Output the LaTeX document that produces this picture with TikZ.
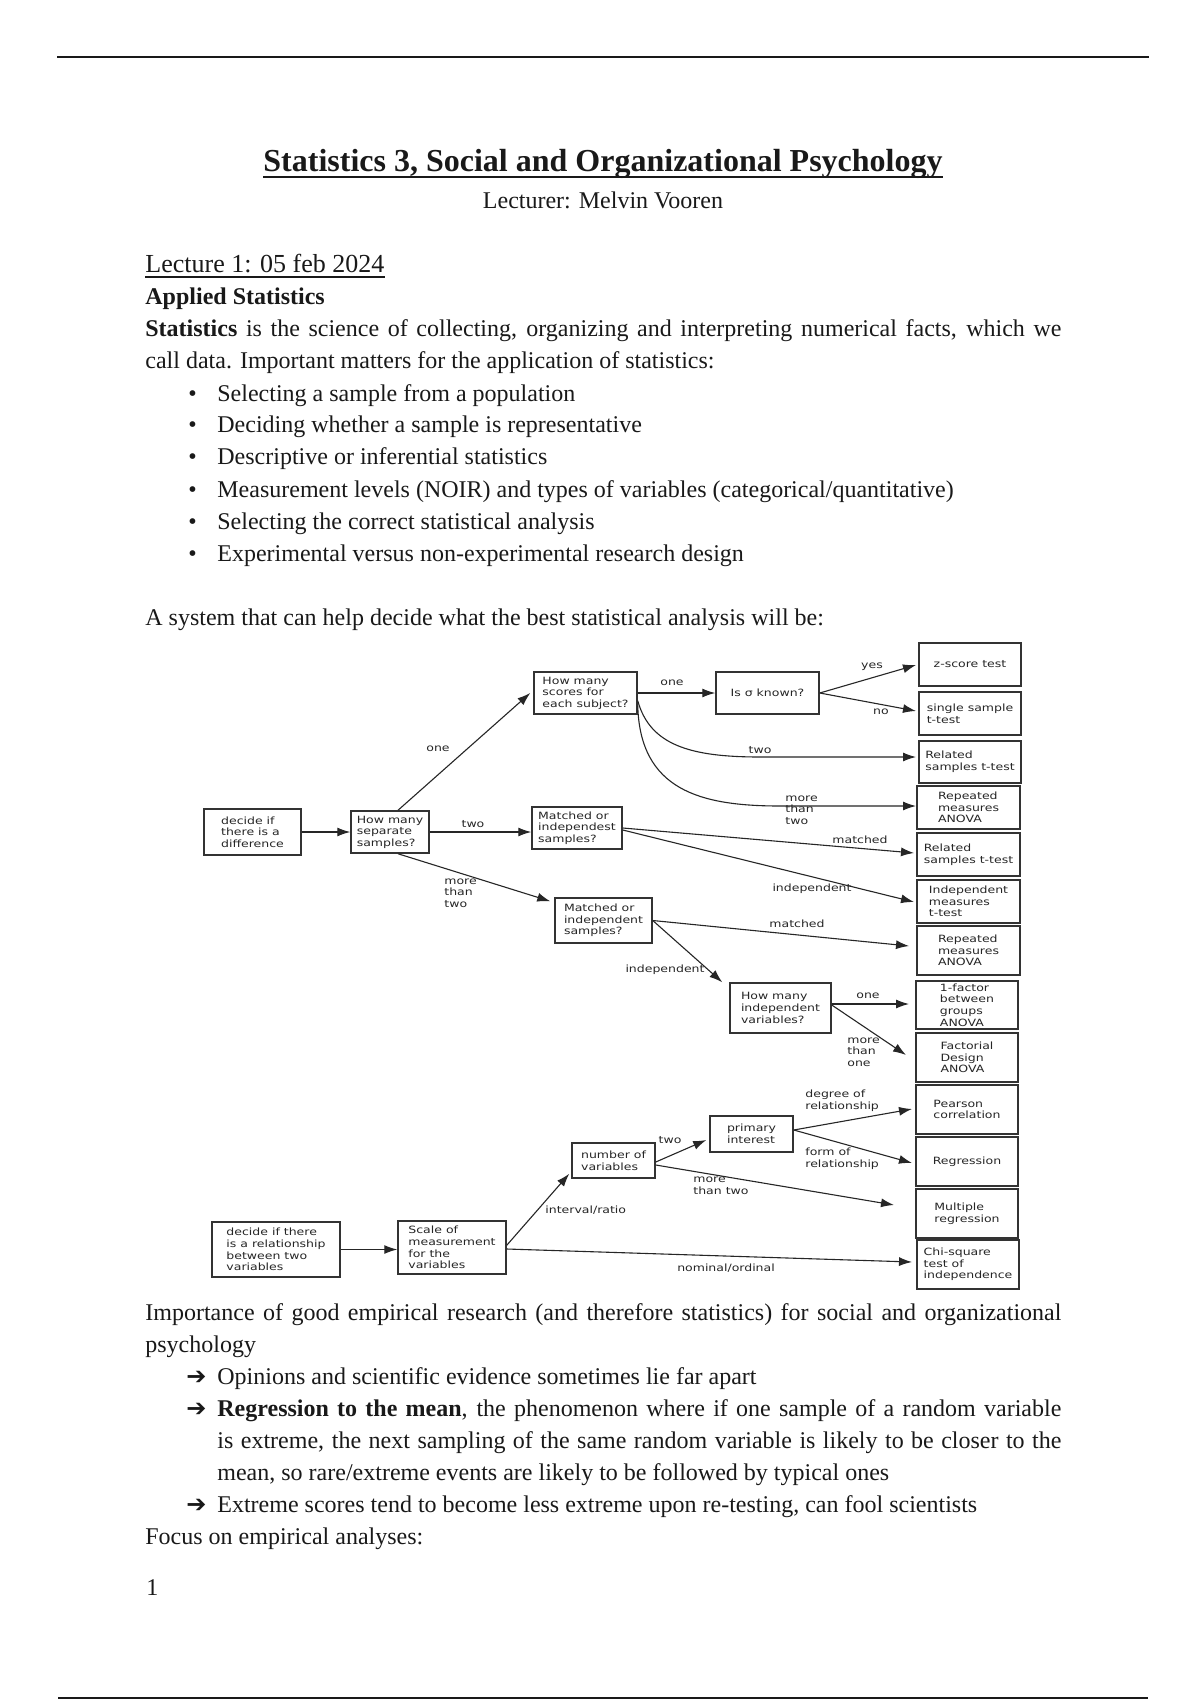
\documentclass[tikz,border=0pt]{standalone}
\usepackage{fontspec}
\setmainfont{Liberation Serif}
\newfontfamily\pixfont[FakeStretch=1.25]{DejaVu Sans}
\newfontfamily\dejavu{DejaVu Sans}
\usetikzlibrary{arrows.meta,calc}
\newcommand\bx[7][]{%
  \pgfmathsetmacro\bxW{(#5-#3)*0.5}%
  \pgfmathsetmacro\bxH{(#6-#4)*0.5}%
  \pgfmathsetmacro\bxX{(#3+#5)/2}%
  \pgfmathsetmacro\bxY{(#4+#6)/2}%
  \node[box,minimum width=\bxW pt,minimum height=\bxH pt,#1] (#2) at (\bxX,\bxY) {#7};}
\begin{document}
\begin{tikzpicture}[x=0.5pt,y=-0.5pt,
  box/.style={draw=black!80, line width=0.75pt, inner sep=0pt, align=left, text=black!85, font=\pixfont\fontsize{5}{5.8}\selectfont},
  rbox/.style={line width=1pt},
  lbl/.style={inner sep=0pt, align=left, text=black!85, font=\pixfont\fontsize{5}{5.8}\selectfont},
  arr/.style={draw=black!85, line width=0.55pt, -{Latex[length=6.5pt,width=4.5pt]}},
  body/.style={inner sep=0pt, anchor=base west, text=black!90, font=\fontsize{12}{14}\selectfont},
  rule/.style={draw=black!90, line width=1.2pt}]
\fill[white] (0,0) rectangle (1200,1700);
\useasboundingbox (0,0) rectangle (1200,1700);

% page rules
\draw[rule] (57,57) -- (1149,57);
\draw[rule] (58,1698) -- (1148,1698);

% header
\node[inner sep=0pt, anchor=base, text=black!90, font=\bfseries\fontsize{16}{19}\selectfont] (title) at (603,172) {Statistics 3, Social and Organizational Psychology};
\draw[line width=0.75pt, black!90] ($(title.base west)+(0,5)$) -- ($(title.base east)+(0,5)$);
\node[inner sep=0pt, anchor=base, text=black!90, font=\fontsize{12}{14}\selectfont] (lect) at (603,209) {Lecturer: Melvin Vooren};

\node[body, font=\fontsize{13}{15}\selectfont] (l1) at (145,273) {Lecture 1: 05 feb 2024};
\draw[line width=0.6pt, black!90] ($(l1.base west)+(0,4)$) -- ($(l1.base east)+(0,4)$);
\node[body, font=\bfseries\fontsize{12}{14}\selectfont] (l2) at (145,305) {Applied Statistics};
\node[body] (l3) at (145,337) {\makebox[458pt][s]{\textbf{Statistics} is the science of collecting, organizing and interpreting numerical facts, which we}};
\node[body] (l4) at (145,369) {call data. Important matters for the application of statistics:};

\node[body] (b1) at (188,401) {•};
\node[body] (t1) at (217,401) {Selecting a sample from a population};
\node[body] (b2) at (188,433) {•};
\node[body] (t2) at (217,433) {Deciding whether a sample is representative};
\node[body] (b3) at (188,465) {•};
\node[body] (t3) at (217,465) {Descriptive or inferential statistics};
\node[body] (b4) at (188,497) {•};
\node[body] (t4) at (217,497) {Measurement levels (NOIR) and types of variables (categorical/quantitative)};
\node[body] (b5) at (188,529) {•};
\node[body] (t5) at (217,529) {Selecting the correct statistical analysis};
\node[body] (b6) at (188,561) {•};
\node[body] (t6) at (217,561) {Experimental versus non-experimental research design};

\node[body] (l5) at (145,625) {A system that can help decide what the best statistical analysis will be:};

% ---------------- diagram: boxes ----------------
\bx{A}{204}{809}{301}{855}{decide if\\there is a\\difference}
\bx{B}{351}{811}{429}{853}{How many\\separate\\samples?}
\bx{C}{534}{672}{637}{714}{How many\\scores for\\each subject?}
\bx[align=center]{D}{716}{672}{819}{714}{Is σ known?}
\bx{E}{532}{807}{622}{849}{Matched or\\independest\\samples?}
\bx{F}{555}{898}{652}{943}{Matched or\\independent\\samples?}
\bx{G}{730}{983}{831}{1033}{How many\\independent\\variables?}
\bx{H}{710}{1116}{793}{1152}{primary\\interest}
\bx{I}{572}{1143}{655}{1178}{number of\\variables}
\bx{J}{398}{1221}{506}{1274}{Scale of\\measurement\\for the\\variables}
\bx{K}{212}{1222}{340}{1277}{decide if there\\is a relationship\\between two\\variables}

\bx[rbox,align=center]{R1}{919}{643}{1021}{686}{z-score test}
\bx[rbox]{R2}{919}{692}{1021}{735}{single sample\\t-test}
\bx[rbox]{R3}{919}{741}{1021}{783}{Related\\samples t-test}
\bx[rbox]{R4}{917}{786}{1020}{829}{Repeated\\measures\\ANOVA}
\bx[rbox]{R5}{917}{833}{1020}{876}{Related\\samples t-test}
\bx[rbox]{R6}{917}{880}{1020}{923}{Independent\\measures\\t-test}
\bx[rbox]{R7}{917}{926}{1020}{975}{Repeated\\measures\\ANOVA}
\bx[rbox]{R8}{916}{981}{1018}{1029}{1-factor\\between\\groups\\ANOVA}
\bx[rbox]{R9}{916}{1033}{1018}{1082}{Factorial\\Design\\ANOVA}
\bx[rbox]{R10}{916}{1085}{1018}{1134}{Pearson\\correlation}
\bx[rbox]{R11}{916}{1137}{1018}{1186}{Regression}
\bx[rbox]{R12}{916}{1189}{1018}{1238}{Multiple\\regression}
\bx[rbox]{R13}{917}{1240}{1019}{1289}{Chi-square\\test of\\independence}

% ---------------- diagram: connectors ----------------
\draw[arr] (A.east) -- (B.west);
\draw[arr] ($(B.north)+(8,0)$) -- ($(C.west)+(-3,0)$);
\draw[arr] (B.east) -- (B.east -| E.west);
\draw[arr] ($(B.south)+(8,0)$) -- ($(F.north west)+(-4,4)$);
\draw[arr] (C.east) -- (D.west);
\draw[arr] (D.east) -- ($(R1.west)+(-2,0.5)$);
\draw[arr] (D.east) -- ($(R2.west)+(-2,-2.5)$);
\draw[arr] ($(C.south east)+(0,-14)$) .. controls (650,745) and (690,757) .. (760,757) -- ($(R3.west)+(-2,-5)$);
\draw[arr] ($(C.south east)+(0,-9)$) .. controls (640,790) and (700,806) .. (780,806) -- ($(R4.west)+(0,-1.5)$);
\draw[arr] (E.east) -- ($(R5.west)+(-2,-1.5)$);
\draw[arr] ($(E.east)+(0,2)$) -- ($(R6.west)+(-2,0.5)$);
\draw[arr] (F.east) -- ($(R7.west)+(-7,-4.5)$);
\draw[arr] (F.east) -- ($(G.north west)+(-7,0)$);
\draw[arr] ($(G.east)+(0,-4)$) -- ($(R8.west)+(-6,-1)$);
\draw[arr] ($(G.east)+(0,-3)$) -- ($(R9.west)+(-9,-2.5)$);
\draw[arr] ($(I.east)+(0,1.5)$) -- ($(H.west)+(-3,6)$);
\draw[arr] ($(H.east)+(0,-4)$) -- ($(R10.west)+(-3,-0.5)$);
\draw[arr] ($(H.east)+(0,-4)$) -- ($(R11.west)+(-3,1.5)$);
\draw[arr] ($(I.east)+(0,4.5)$) -- ($(R12.west)+(-21,-8.5)$);
\draw[arr] (K.east) -- (K.east -| J.west);
\draw[arr] ($(J.north east)+(0,25)$) -- ($(I.south west)+(-2,-5)$);
\draw[arr] ($(J.east)+(0,1.5)$) -- ($(R13.west)+(-4,-2.5)$);

% ---------------- diagram: labels ----------------
\node[lbl] (n1) at (438,749) {one};
\node[lbl] (n2) at (473,824) {two};
\node[lbl, anchor=west] (n3) at (444,893) {more\\than\\two};
\node[lbl] (n4) at (672,683) {one};
\node[lbl] (n5) at (872,667) {yes};
\node[lbl] (n6) at (881,712) {no};
\node[lbl] (n7) at (760,750) {two};
\node[lbl, anchor=west] (n8) at (785,810) {more\\than\\two};
\node[lbl] (n9) at (860,840) {matched};
\node[lbl] (n10) at (812,889) {independent};
\node[lbl] (n11) at (797,924) {matched};
\node[lbl] (n12) at (665,970) {independent};
\node[lbl] (n13) at (868,996) {one};
\node[lbl, anchor=west] (n14) at (847,1052) {more\\than\\one};
\node[lbl] (n15) at (670,1140) {two};
\node[lbl, anchor=west] (n16) at (805,1101) {degree of\\relationship};
\node[lbl, anchor=west] (n17) at (805,1159) {form of\\relationship};
\node[lbl, anchor=west] (n18) at (693,1186) {more\\than two};
\node[lbl, anchor=west] (n19) at (545,1210) {interval/ratio};
\node[lbl] (n20) at (726,1268) {nominal/ordinal};

% ---------------- text below ----------------
\node[body] (l6) at (145,1320) {\makebox[458pt][s]{Importance of good empirical research (and therefore statistics) for social and organizational}};
\node[body] (l7) at (145,1352) {psychology};
\node[body] (a1) at (186,1384) {\dejavu ➔};
\node[body] (u1) at (217,1384) {Opinions and scientific evidence sometimes lie far apart};
\node[body] (a2) at (186,1416) {\dejavu ➔};
\node[body] (u2) at (217,1416) {\makebox[422pt][s]{\textbf{Regression to the mean}, the phenomenon where if one sample of a random variable}};
\node[body] (u3) at (217,1448) {\makebox[422pt][s]{is extreme, the next sampling of the same random variable is likely to be closer to the}};
\node[body] (u4) at (217,1480) {mean, so rare/extreme events are likely to be followed by typical ones};
\node[body] (a3) at (186,1512) {\dejavu ➔};
\node[body] (u5) at (217,1512) {Extreme scores tend to become less extreme upon re-testing, can fool scientists};
\node[body] (l8) at (145,1544) {Focus on empirical analyses:};
\node[body] (pg) at (146,1595) {1};
\end{tikzpicture}
\end{document}
